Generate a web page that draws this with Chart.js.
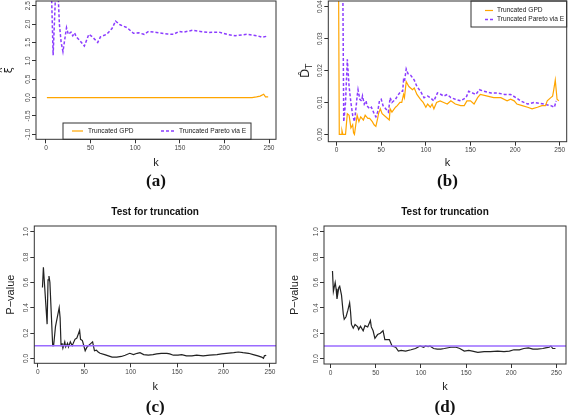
<!DOCTYPE html>
<html>
<head>
<meta charset="utf-8">
<script src="https://cdn.jsdelivr.net/npm/chart.js@4/dist/chart.umd.min.js"></script>
<style>
  body { margin: 0; background: #fff; width: 568px; height: 415px; position: relative; overflow: hidden; }
  canvas { position: absolute; }
</style>
</head>
<body>
<canvas id="pa" width="284" height="200" style="left:0;top:0"></canvas>
<canvas id="pb" width="284" height="200" style="left:284px;top:0"></canvas>
<canvas id="pc" width="284" height="215" style="left:0;top:200px"></canvas>
<canvas id="pd" width="284" height="215" style="left:284px;top:200px"></canvas>
<script>
// ---- data ----
const xTicks = [0, 50, 100, 150, 200, 250];
const legendLabels = ['Truncated GPD', 'Truncated Pareto via E'];

// (a) shape estimate xi-hat
const aYTicks = [-1.0, -0.5, 0.0, 0.5, 1.0, 1.5, 2.0, 2.5];
const aGpdK = [1, 231, 236, 240, 244, 246, 249];
const aGpdXi = [0, 0, 0.02, 0.04, 0.09, 0.02, 0.02];
const aParK = [4, 6, 8, 11, 13, 15, 17, 19, 23, 25, 28, 30, 32, 34, 38, 43, 48, 52, 58, 61, 64, 68, 71, 74, 78, 83, 91, 98,
  104, 110, 115, 124, 136, 143, 149, 154, 164, 173, 182, 194, 203, 212, 225, 237, 242, 248];
const aParXi = [3.6, 3.0, 1.15, 3.0, 3.2, 2.0, 1.5, 1.25, 1.9, 1.72, 1.78, 1.68, 1.76, 1.65, 1.55, 1.4, 1.72, 1.65, 1.5, 1.65,
  1.68, 1.72, 1.8, 1.88, 2.08, 1.98, 1.9, 1.75, 1.76, 1.72, 1.8, 1.77, 1.73, 1.72, 1.8, 1.78, 1.83, 1.8, 1.77, 1.78,
  1.72, 1.68, 1.72, 1.68, 1.64, 1.67];

// (b) D_T hat
const bYTicks = [0.00, 0.01, 0.02, 0.03, 0.04];
const bGpdK = [2, 3, 5, 6, 7, 10, 12, 14, 16, 18, 19, 20, 23, 25, 27, 30, 32, 35, 37, 40, 42, 44, 46, 47, 49, 51, 55, 59, 60,
  62, 66, 68, 71, 73, 75, 76, 78, 81, 85, 87, 90, 94, 97, 100, 102, 105, 107, 109, 112, 116, 120, 124, 128, 133, 139, 143,
  146, 150, 154, 158, 161, 169, 176, 184, 191, 195, 199, 202, 208, 214, 219, 225, 230, 234, 236, 240, 242, 243, 245, 247, 249];
const bGpdD = [0.06, 0.0, 0.0, 0.0012, 0.0, 0.0, 0.0065, 0.006, 0.002, 0.003, 0.0005, 0.0, 0.006, 0.004, 0.0055, 0.0045,
  0.006, 0.005, 0.005, 0.004, 0.003, 0.0025, 0.005, 0.0065, 0.008, 0.0065, 0.0055, 0.0045, 0.008, 0.007, 0.0085, 0.009,
  0.010, 0.010, 0.0125, 0.0115, 0.0165, 0.015, 0.014, 0.0145, 0.0125, 0.011, 0.010, 0.0085, 0.0095, 0.0085, 0.0095, 0.008,
  0.010, 0.0105, 0.010, 0.0095, 0.0105, 0.0095, 0.009, 0.009, 0.0105, 0.0105, 0.0095, 0.0115, 0.0125, 0.012, 0.0115,
  0.0115, 0.0105, 0.011, 0.0105, 0.0095, 0.009, 0.0085, 0.008, 0.0085, 0.009, 0.009, 0.0105, 0.0115, 0.012, 0.0135,
  0.017, 0.011, 0.0105];
const bParK = [5, 7, 8, 10, 12, 14, 16, 18, 20, 22, 23, 24, 26, 28, 29, 31, 33, 34, 37, 39, 42, 44, 46, 48, 50, 52, 55, 58,
  60, 62, 66, 68, 72, 74, 75, 76, 78, 80, 83, 87, 90, 94, 98, 102, 105, 109, 113, 117, 120, 124, 128, 133, 139, 145, 148,
  152, 156, 160, 165, 173, 180, 188, 195, 201, 206, 214, 221, 232, 240, 244, 246];
const bParD = [0.06, 0.045, 0.004, 0.01, 0.0235, 0.015, 0.01, 0.006, 0.004, 0.009, 0.012, 0.014, 0.011, 0.0105, 0.012,
  0.0095, 0.0105, 0.009, 0.008, 0.0085, 0.0065, 0.0055, 0.007, 0.0105, 0.011, 0.009, 0.008, 0.007, 0.0115, 0.010, 0.011,
  0.012, 0.0135, 0.0135, 0.017, 0.0165, 0.0205, 0.019, 0.0185, 0.017, 0.015, 0.0135, 0.0115, 0.012, 0.0115, 0.0105, 0.013,
  0.0125, 0.012, 0.0125, 0.0115, 0.011, 0.0105, 0.0115, 0.0135, 0.013, 0.0125, 0.014, 0.0135, 0.013, 0.013, 0.0125,
  0.0125, 0.0115, 0.0105, 0.0095, 0.010, 0.0095, 0.009, 0.0085, 0.0105];

// (c), (d) p-values of the truncation test
const pYTicks = [0.0, 0.2, 0.4, 0.6, 0.8, 1.0];
const cutoff = 0.1;
const cK = [5, 6, 10, 11, 12, 13, 16, 17, 19, 23, 24, 25, 26, 27, 29, 30, 32, 33, 35, 37, 40, 42, 45, 46, 48, 51, 53, 56,
  59, 61, 63, 65, 67, 72, 76, 80, 85, 90, 94, 99, 103, 107, 110, 114, 119, 124, 128, 133, 139, 142, 146, 151, 155, 160,
  166, 171, 178, 185, 193, 198, 203, 211, 216, 221, 227, 232, 237, 241, 243, 244, 246];
const cP = [0.56, 0.72, 0.27, 0.62, 0.65, 0.6, 0.1, 0.1, 0.25, 0.4, 0.32, 0.1, 0.12, 0.08, 0.13, 0.09, 0.12, 0.09, 0.13,
  0.1, 0.15, 0.16, 0.22, 0.15, 0.14, 0.06, 0.09, 0.11, 0.13, 0.06, 0.065, 0.05, 0.04, 0.03, 0.02, 0.01, 0.01, 0.015,
  0.025, 0.04, 0.03, 0.04, 0.045, 0.03, 0.025, 0.03, 0.035, 0.04, 0.04, 0.035, 0.025, 0.025, 0.03, 0.02, 0.02, 0.025,
  0.02, 0.025, 0.03, 0.035, 0.04, 0.045, 0.05, 0.045, 0.04, 0.03, 0.02, 0.01, 0.0, 0.02, 0.025];
const dK = [2, 3, 5, 6, 7, 9, 10, 12, 14, 15, 17, 19, 21, 22, 23, 25, 27, 30, 31, 33, 36, 38, 41, 44, 45, 47, 49, 52, 55,
  58, 60, 65, 68, 72, 75, 78, 83, 89, 94, 99, 103, 105, 108, 110, 114, 118, 122, 126, 133, 139, 143, 148, 153, 157, 163,
  170, 177, 185, 192, 198, 203, 209, 214, 219, 224, 229, 235, 238, 242, 244, 246, 249];
const dP = [0.69, 0.53, 0.6, 0.55, 0.47, 0.56, 0.57, 0.5, 0.35, 0.31, 0.33, 0.38, 0.44, 0.37, 0.27, 0.24, 0.27, 0.25,
  0.23, 0.255, 0.22, 0.26, 0.25, 0.3, 0.25, 0.22, 0.16, 0.19, 0.2, 0.22, 0.15, 0.15, 0.1, 0.09, 0.06, 0.065, 0.06, 0.07,
  0.08, 0.1, 0.09, 0.1, 0.095, 0.1, 0.08, 0.075, 0.075, 0.08, 0.09, 0.09, 0.08, 0.06, 0.065, 0.06, 0.05, 0.055, 0.055,
  0.06, 0.055, 0.06, 0.07, 0.07, 0.08, 0.085, 0.075, 0.075, 0.08, 0.085, 0.09, 0.1, 0.08, 0.08];

// ---- styling ----
const SANS = '"Liberation Sans", Arial, Helvetica, sans-serif';
const ORANGE = '#ffa500';
const PURPLE = '#8b3dff';
Chart.defaults.font.family = SANS;

const pts = (ks, vs) => ks.map((k, i) => ({ x: k, y: vs[i] }));

// frame, captions, y labels, legend, cutoff line
const decor = {
  id: 'decor',
  afterDatasetsDraw(chart, args, o) {
    if (o.cutoff == null) return;
    const { ctx, chartArea: a, scales: { y } } = chart;
    const py = y.getPixelForValue(o.cutoff);
    ctx.save();
    ctx.strokeStyle = '#9a6bff';
    ctx.lineWidth = 1.6;
    ctx.beginPath();
    ctx.moveTo(a.left, py);
    ctx.lineTo(a.right, py);
    ctx.stroke();
    ctx.restore();
  },
  afterDraw(chart, args, o) {
    const { ctx, chartArea: a } = chart;
    ctx.save();
    ctx.strokeStyle = '#333';
    ctx.lineWidth = 1;
    ctx.strokeRect(a.left, a.top, a.right - a.left, a.bottom - a.top);

    const cx = (a.left + a.right) / 2;
    ctx.fillStyle = '#111';
    ctx.textAlign = 'center';
    ctx.textBaseline = 'middle';
    if (o.title) {
      ctx.font = 'bold 10px ' + SANS;
      ctx.fillText(o.title, cx, o.titleY);
    }
    ctx.font = 'bold 17px "Liberation Serif", "Times New Roman", serif';
    ctx.fillText(o.caption, cx, o.captionY);

    // y axis label, rotated
    ctx.save();
    ctx.translate(o.ylabX, (a.top + a.bottom) / 2);
    ctx.rotate(-Math.PI / 2);
    ctx.fillStyle = '#222';
    if (o.ylab === 'xi') {
      ctx.textBaseline = 'alphabetic';
      ctx.font = '11px "DejaVu Sans", sans-serif';
      ctx.fillText('\u03be', 0, 4);
      ctx.font = '10px ' + SANS;
      ctx.fillText('^', 0, -2.5);
    } else if (o.ylab === 'D') {
      ctx.font = '12px "DejaVu Sans", sans-serif';
      ctx.fillText('D\u0302', -2, 0);
      ctx.font = '8px "DejaVu Sans", sans-serif';
      ctx.fillText('T', 5, 4);
    } else {
      ctx.font = '11px ' + SANS;
      ctx.fillText(o.ylab, 0, 0);
    }
    ctx.restore();

    if (o.legend) {
      const lg = o.legend;
      ctx.strokeStyle = '#333';
      ctx.lineWidth = 1;
      ctx.strokeRect(lg.x, lg.y, lg.w, a.bottom - lg.y > lg.h ? lg.h : a.bottom - lg.y);
      ctx.font = '6.6px ' + SANS;
      ctx.textAlign = 'left';
      ctx.fillStyle = '#222';
      chart.data.datasets.forEach((ds, i) => {
        const it = lg.items[i];
        ctx.strokeStyle = ds.borderColor;
        ctx.lineWidth = ds.borderWidth;
        ctx.setLineDash(ds.borderDash || []);
        ctx.beginPath();
        ctx.moveTo(it.x, it.y);
        ctx.lineTo(it.x + it.len, it.y);
        ctx.stroke();
        ctx.setLineDash([]);
        ctx.fillText(ds.label, it.x + it.len + lg.gap, it.y);
      });
    }
    ctx.restore();
  }
};

function makePanel(id, p) {
  const tickFont = { size: 6.5, family: SANS };
  return new Chart(document.getElementById(id), {
    type: 'line',
    data: { datasets: p.datasets },
    plugins: [decor],
    options: {
      responsive: false,
      animation: false,
      layout: { padding: p.padding },
      elements: { point: { radius: 0 }, line: { tension: 0 } },
      plugins: { legend: { display: false }, tooltip: { enabled: false }, decor: p.decor },
      scales: {
        x: {
          type: 'linear', position: 'bottom', min: p.xMin, max: p.xMax,
          afterBuildTicks: s => { s.ticks = xTicks.map(v => ({ value: v })); },
          afterFit: s => { s.height = p.xHeight; s.paddingLeft = 0; s.paddingRight = 0; },
          grid: { drawOnChartArea: false, tickLength: 4, color: '#333' },
          border: { display: false },
          ticks: { font: tickFont, color: '#444', padding: 1, maxRotation: 0, callback: v => String(v) },
          title: { display: true, text: 'k', font: { size: 11, family: SANS }, color: '#222', padding: { top: 0, bottom: 0 } }
        },
        y: {
          type: 'linear', min: p.yMin, max: p.yMax,
          afterBuildTicks: s => { s.ticks = p.yTicks.map(v => ({ value: v })); },
          afterFit: s => { s.width = p.yWidth; s.paddingTop = 0; s.paddingBottom = 0; },
          grid: { drawOnChartArea: false, tickLength: 4, color: '#333' },
          border: { display: false },
          ticks: {
            font: tickFont, color: '#444', padding: p.yPad, minRotation: 90, maxRotation: 90,
            crossAlign: 'center', callback: v => v.toFixed(p.yDigits)
          }
        }
      }
    }
  });
}

makePanel('pa', {
  padding: { left: 0, top: 1, right: 8, bottom: 30.7 },
  xHeight: 30, yWidth: 36, yPad: -1.6,
  xMin: -11.2, xMax: 257.8, yMin: -1.136, yMax: 2.627, yTicks: aYTicks, yDigits: 1,
  datasets: [
    { label: legendLabels[0], data: pts(aGpdK, aGpdXi), borderColor: ORANGE, borderWidth: 1.2, clip: 0 },
    { label: legendLabels[1], data: pts(aParK, aParXi), borderColor: PURPLE, borderWidth: 1.5, borderDash: [3, 2], clip: 0 }
  ],
  decor: {
    caption: '(a)', captionY: 182, ylab: 'xi', ylabX: 8,
    legend: { x: 63, y: 123, w: 188, h: 17, gap: 5,
      items: [{ x: 72, y: 131, len: 11 }, { x: 161, y: 131, len: 13 }] }
  }
});

makePanel('pb', {
  padding: { left: 0, top: 1, right: 1.3, bottom: 30.4 },
  xHeight: 27.9, yWidth: 44.3, yPad: -2.3,
  xMin: -9.3, xMax: 257.8, yMin: -0.0023, yMax: 0.0418, yTicks: bYTicks, yDigits: 2,
  datasets: [
    { label: legendLabels[0], data: pts(bGpdK, bGpdD), borderColor: ORANGE, borderWidth: 1.2, clip: 0 },
    { label: legendLabels[1], data: pts(bParK, bParD), borderColor: PURPLE, borderWidth: 1.5, borderDash: [3, 2], clip: 0 }
  ],
  decor: {
    caption: '(b)', captionY: 182, ylab: 'D', ylabX: 22,
    legend: { x: 187, y: 1, w: 95.7, h: 26, gap: 4,
      items: [{ x: 201, y: 10.5, len: 8 }, { x: 201, y: 19.5, len: 8 }] }
  }
});

makePanel('pc', {
  padding: { left: 0, top: 26, right: 8, bottom: 21.1 },
  xHeight: 30.6, yWidth: 34.3, yPad: -0.5,
  xMin: -3.8, xMax: 256.5, yMin: -0.039, yMax: 1.045, yTicks: pYTicks, yDigits: 1,
  datasets: [
    { label: 'P-value', data: pts(cK, cP), borderColor: '#222', borderWidth: 1.2, clip: 0 }
  ],
  decor: { title: 'Test for truncation', titleY: 12.7, caption: '(c)', captionY: 208, ylab: 'P\u2212value', ylabX: 11, cutoff: cutoff }
});

makePanel('pd', {
  padding: { left: 0, top: 26, right: 2, bottom: 21.1 },
  xHeight: 29.9, yWidth: 40, yPad: -0.5,
  xMin: -7.4, xMax: 260.7, yMin: -0.042, yMax: 1.045, yTicks: pYTicks, yDigits: 1,
  datasets: [
    { label: 'P-value', data: pts(dK, dP), borderColor: '#222', borderWidth: 1.2, clip: 0 }
  ],
  decor: { title: 'Test for truncation', titleY: 12.7, caption: '(d)', captionY: 208, ylab: 'P\u2212value', ylabX: 11, cutoff: cutoff }
});
</script>
</body>
</html>
